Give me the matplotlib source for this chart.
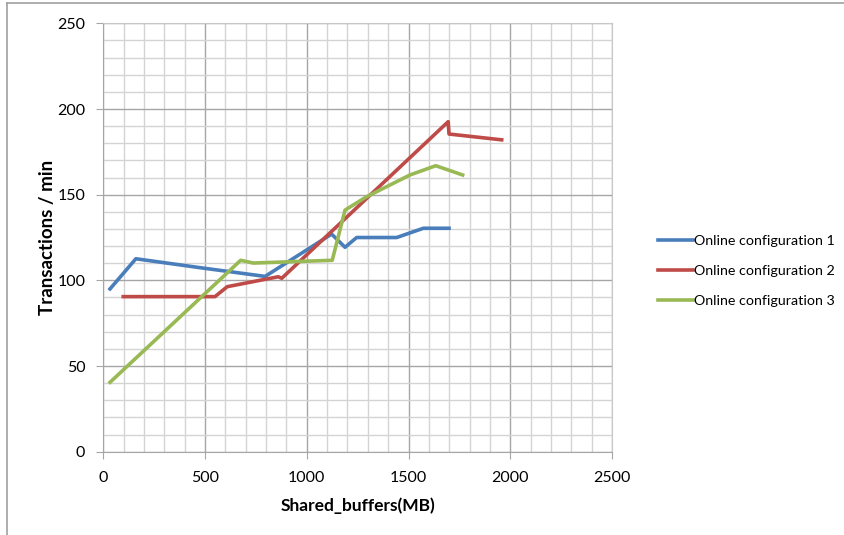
import matplotlib
matplotlib.use("Agg")
import matplotlib.pyplot as plt
from matplotlib.lines import Line2D
from matplotlib.ticker import MultipleLocator

plt.rcParams['font.family'] = ['Lato', 'DejaVu Sans']

# data
buffers_1 = [33, 160, 475, 795, 1122, 1188, 1245, 1442, 1573, 1699]
tpm_1 = [95, 112.6, 107.4, 102.3, 127, 119.3, 125, 125, 130.4, 130.4]

buffers_2 = [98, 549, 609, 860, 877, 1695, 1699, 1958]
tpm_2 = [90.5, 90.5, 96.3, 102.1, 101.2, 192.6, 185.4, 182]

buffers_3 = [33, 675, 737, 1125, 1188, 1294, 1507, 1634, 1766]
tpm_3 = [40.5, 111.7, 110.1, 111.7, 141, 148.8, 161.5, 166.9, 161.5]

labels = ["Online configuration 1", "Online configuration 2", "Online configuration 3"]
colors = ["#4A7EBB", "#BE4B48", "#98B954"]

fig = plt.figure(figsize=(8.44, 5.35), dpi=100)
ax = fig.add_axes([0.1224, 0.1557, 0.6027, 0.8007])

ax.plot(buffers_1, tpm_1, color=colors[0], lw=2.6, label=labels[0], zorder=3)
ax.plot(buffers_2, tpm_2, color=colors[1], lw=2.6, label=labels[1], zorder=3)
ax.plot(buffers_3, tpm_3, color=colors[2], lw=2.6, label=labels[2], zorder=3)

ax.set_xlim(0, 2500)
ax.set_ylim(0, 250)
ax.xaxis.set_major_locator(MultipleLocator(500))
ax.xaxis.set_minor_locator(MultipleLocator(100))
ax.yaxis.set_major_locator(MultipleLocator(50))
ax.yaxis.set_minor_locator(MultipleLocator(10))

ax.grid(which='minor', color='#d4d4d4', lw=1.0, zorder=0)
ax.grid(which='major', color='#a6a6a6', lw=1.0, zorder=1)
ax.set_axisbelow(True)

for side in ['top', 'right']:
    ax.spines[side].set_color('#c8c8c8')
for side in ['left', 'bottom']:
    ax.spines[side].set_color('#a6a6a6')
ax.tick_params(which='major', length=5, color='#a6a6a6', labelsize=11.5)
ax.tick_params(axis='x', pad=9)
ax.tick_params(axis='y', pad=8)
ax.tick_params(which='minor', length=0)

ax.set_xlabel("Shared_buffers(MB)", fontsize=12.5, fontweight='bold', labelpad=9)
ax.set_ylabel("Transactions / min", fontsize=13.5, fontweight='bold', labelpad=1)

ax.legend(loc='center left', bbox_to_anchor=(1.066, 0.422), frameon=False,
          fontsize=10.3, handlelength=2.4, handletextpad=0.1, labelspacing=1.25)

# outer chart border (left and top visible)
fig.add_artist(Line2D([0.0087, 0.0087], [0, 0.995], color='#a0a0a0', lw=1.2))
fig.add_artist(Line2D([0.0087, 1.0], [0.995, 0.995], color='#a0a0a0', lw=1.2))

fig.savefig("out.png", dpi=100)
